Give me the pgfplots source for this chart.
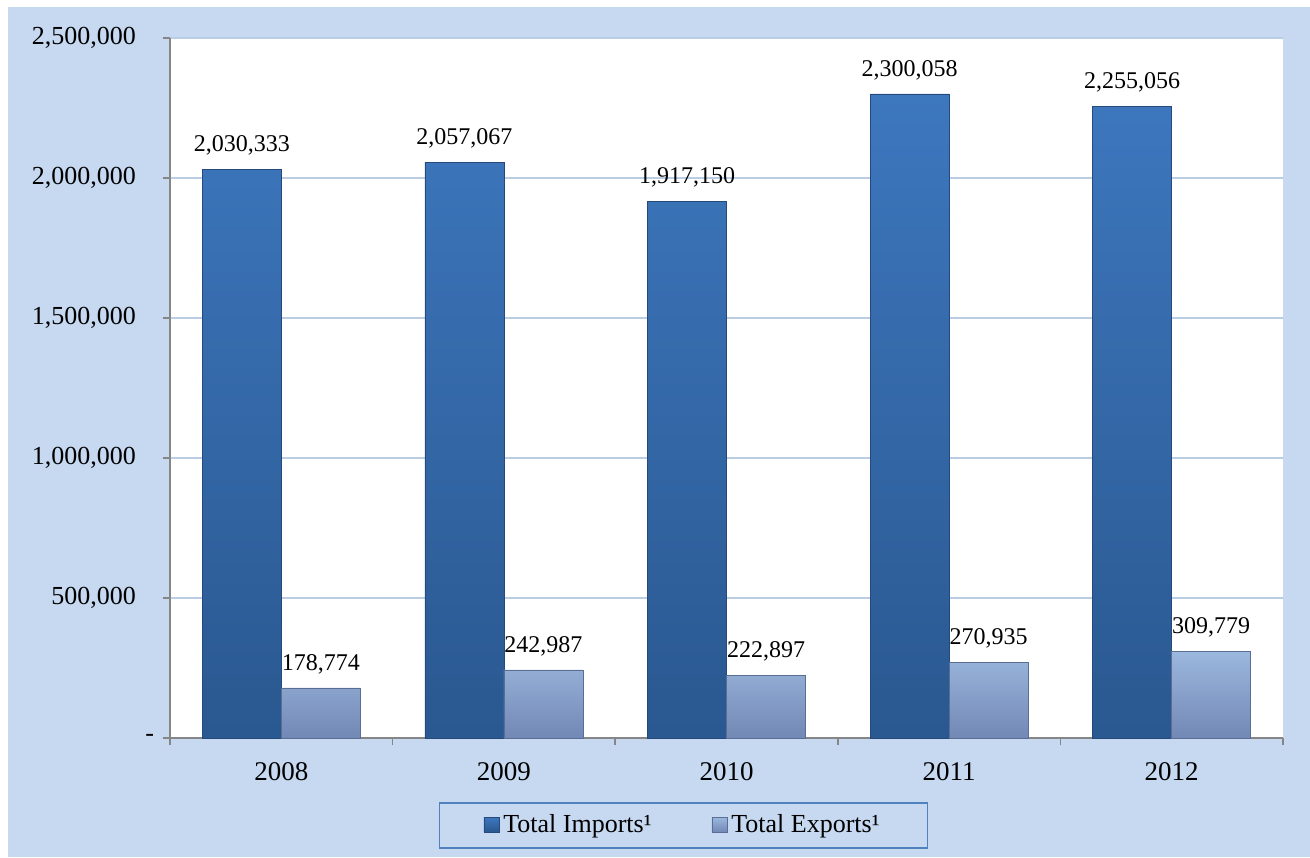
\documentclass[border=0pt]{standalone}
\usepackage{pgfplots}
\pgfplotsset{compat=1.18}
\usepackage{fontspec}
\setmainfont{Liberation Serif}
\definecolor{bg}{HTML}{C6D9F1}
\definecolor{gridblue}{HTML}{B9CDE5}
\definecolor{axgray}{HTML}{868686}
\definecolor{legblue}{HTML}{4F81BD}
\definecolor{imptop}{HTML}{3D77BE}
\definecolor{impbot}{HTML}{2A5890}
\definecolor{impedge}{HTML}{24497A}
\definecolor{exptop}{HTML}{9CB8DE}
\definecolor{expbot}{HTML}{7288B5}
\definecolor{expedge}{HTML}{5A6E93}
\begin{document}
\begin{tikzpicture}
\fill[white] (0,0) rectangle (655pt,428.5pt);
\fill[bg] (4pt,0) rectangle (655pt,425pt);
\begin{axis}[
  at={(85pt,59.5pt)}, anchor=south west,
  scale only axis, width=556.5pt, height=350pt,
  ymin=0, ymax=2500000, xmin=-0.5, xmax=4.5,
  scaled y ticks=false,
  ybar=0pt, bar width=39.5pt,
  axis background/.style={fill=white},
  axis x line*=bottom, axis y line*=left,
  axis line style={draw=axgray, line width=0.9pt, -},
  ytick={0,500000,1000000,1500000,2000000,2500000},
  yticklabels={{-\kern-9pt},{500,000},{1,000,000},{1,500,000},{2,000,000},{2,500,000}},
  ymajorgrids, grid style={gridblue, line width=0.8pt},
  tick align=outside, major tick length=3.5pt,
  tick style={axgray, line width=0.8pt},
  yticklabel style={font=\fontsize{13}{15}\selectfont, xshift=-10pt},
  xtick={-0.5,0.5,1.5,2.5,3.5,4.5},
  x tick label as interval,
  xticklabels={2008,2009,2010,2011,2012},
  xticklabel style={font=\fontsize{13.5}{15}\selectfont, yshift=-5pt},
  nodes near coords,
  every node near coord/.append style={font=\fontsize{12}{14}\selectfont, yshift=3.5pt, black},
  /pgf/number format/.cd, fixed, precision=0, 1000 sep={,}, assume math mode=true,
  /pgfplots/.cd,
  legend columns=2,
  legend image code/.code={\path[#1] (0pt,-3.3pt) rectangle (7.5pt,4pt);},
  legend style={at={(0.4614,-0.0914)}, anchor=north, draw=legblue, line width=0.8pt,
    fill=bg, font=\fontsize{13}{15}\selectfont, inner xsep=22pt, inner ysep=4pt,
    /tikz/every even column/.append style={column sep=28pt}},
]
\addplot[draw=impedge, line width=0.4pt, top color=imptop, bottom color=impbot]
  coordinates {(0,2030333) (1,2057067) (2,1917150) (3,2300058) (4,2255056)};
\addlegendentry{Total Imports¹}
\addplot[draw=expedge, line width=0.4pt, top color=exptop, bottom color=expbot]
  coordinates {(0,178774) (1,242987) (2,222897) (3,270935) (4,309779)};
\addlegendentry{Total Exports¹}
\end{axis}
\end{tikzpicture}
\end{document}
